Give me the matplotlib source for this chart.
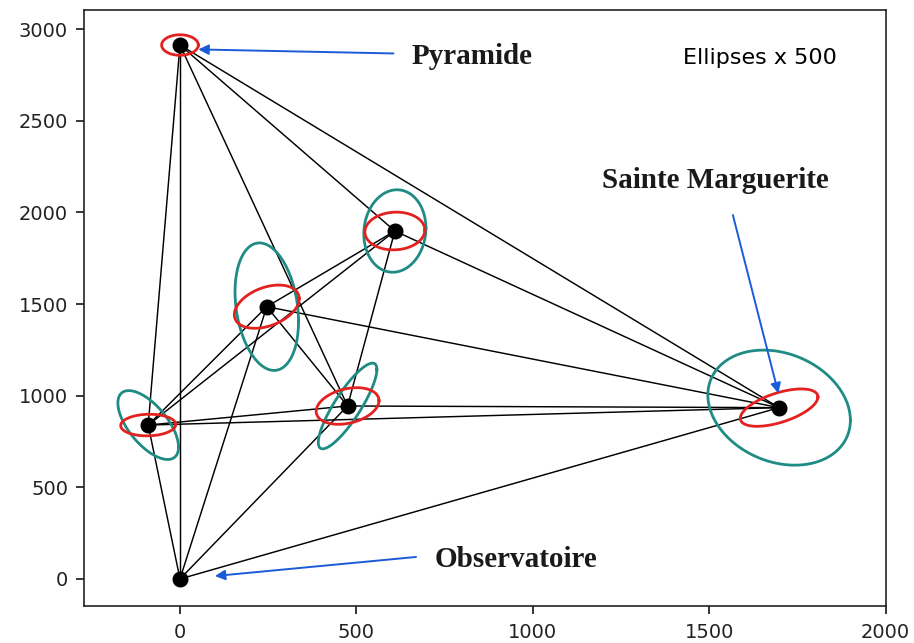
import numpy as np
import matplotlib
matplotlib.use("Agg")
import matplotlib.pyplot as plt

# Points du réseau (m)
noms = ["Observatoire", "Pyramide", "Sainte Marguerite", "P1", "P2", "P3", "P4"]
xs = [0, 0, 1698, -90, 246, 609, 475]
ys = [0, 2914, 935, 840, 1486, 1899, 944]

# visées entre points (indices dans noms)
visees = [(1, 3), (1, 0), (1, 6), (1, 5), (1, 2),
          (0, 3), (0, 4), (0, 6), (0, 2),
          (3, 4), (3, 5), (3, 6), (3, 2),
          (4, 5), (4, 6), (4, 2),
          (5, 6), (5, 2), (6, 2)]

# ellipses d'erreur (x 500) : point, sigma x, sigma y, correlation
ell_rouge_pt = [1, 3, 4, 5, 6, 2]
ell_rouge_sx = [52, 78, 92, 85, 89, 110]
ell_rouge_sy = [56, 59, 118, 103, 100, 102]
ell_rouge_rho = [0.0, 0.05, 0.37, 0.05, 0.29, 0.57]

ell_verte_pt = [3, 4, 5, 6, 2]
ell_verte_sx = [86, 90, 88, 83, 202]
ell_verte_sy = [188, 348, 225, 234, 314]
ell_verte_rho = [-0.64, -0.23, 0.07, 0.85, -0.22]


def ellipse(cx, cy, sx, sy, rho):
    t = np.linspace(0, 2 * np.pi, 200)
    ex = cx + sx * np.cos(t)
    ey = cy + sy * (rho * np.cos(t) + np.sqrt(1 - rho ** 2) * np.sin(t))
    return ex, ey


fig = plt.figure(figsize=(9.14, 6.43), dpi=100)
ax = fig.add_axes([0.0919, 0.058, 0.969 - 0.0919, 0.9844 - 0.058])

for i, j in visees:
    ax.plot([xs[i], xs[j]], [ys[i], ys[j]], color="black", lw=1.05, zorder=1)

for k in range(len(ell_verte_pt)):
    p = ell_verte_pt[k]
    ex, ey = ellipse(xs[p], ys[p], ell_verte_sx[k], ell_verte_sy[k], ell_verte_rho[k])
    ax.plot(ex, ey, color="#1e8c84", lw=2.0, zorder=2)

for k in range(len(ell_rouge_pt)):
    p = ell_rouge_pt[k]
    ex, ey = ellipse(xs[p], ys[p], ell_rouge_sx[k], ell_rouge_sy[k], ell_rouge_rho[k])
    ax.plot(ex, ey, color="#e3211f", lw=2.0, zorder=3)

ax.plot(xs, ys, "o", color="black", ms=10.5, zorder=4)

# étiquettes et flèches
bleu = "#1a5bd8"
fl = dict(arrowstyle="-|>", color=bleu, lw=1.4, mutation_scale=15, shrinkA=0, shrinkB=0)
ax.annotate("", xy=(52, 2890), xytext=(605, 2868), arrowprops=fl)
ax.annotate("", xy=(1696, 1013), xytext=(1567, 1986), arrowprops=fl)
ax.annotate("", xy=(99, 16), xytext=(669, 120), arrowprops=fl)

police = dict(family="Liberation Serif", fontweight="bold", fontsize=21, color="#1a1a1a")
ax.text(657, 2813, "Pyramide", va="baseline", **police)
ax.text(1195, 2131, "Sainte Marguerite", va="baseline", **police)
ax.text(723, 67, "Observatoire", va="baseline", **police)

ax.text(1425, 2813, "Ellipses x 500", fontsize=16, va="baseline")

ax.set_xlim(-272, 2000)
ax.set_ylim(-146, 3105)
ax.set_xticks([0, 500, 1000, 1500, 2000])
ax.set_yticks([0, 500, 1000, 1500, 2000, 2500, 3000])
ax.tick_params(labelsize=14, length=5.5, width=1.1, labelcolor="#222222")
ax.tick_params(axis="y", pad=6)
ax.tick_params(axis="x", pad=7)
for s in ax.spines.values():
    s.set_linewidth(1.2)
    s.set_color("#222222")

fig.savefig("out.png", dpi=100)
